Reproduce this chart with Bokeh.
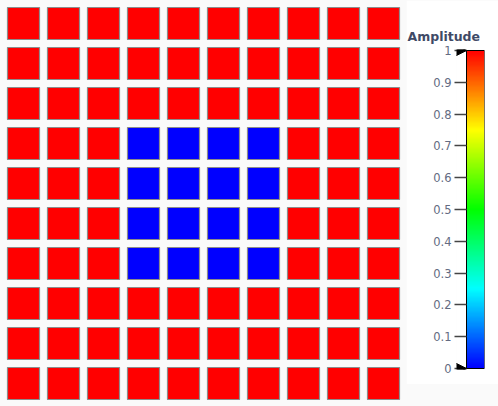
import numpy as np
from bokeh.plotting import figure
from bokeh.layouts import row
from bokeh.models import ColumnDataSource, Range1d, LinearColorMapper, FixedTicker, Title, Arrow, NormalHead
from bokeh.embed import file_html
from bokeh.resources import INLINE

# ---- data ----
amplitude = [
    [1, 1, 1, 1, 1, 1, 1, 1, 1, 1],
    [1, 1, 1, 1, 1, 1, 1, 1, 1, 1],
    [1, 1, 1, 1, 1, 1, 1, 1, 1, 1],
    [1, 1, 1, 0, 0, 0, 0, 1, 1, 1],
    [1, 1, 1, 0, 0, 0, 0, 1, 1, 1],
    [1, 1, 1, 0, 0, 0, 0, 1, 1, 1],
    [1, 1, 1, 0, 0, 0, 0, 1, 1, 1],
    [1, 1, 1, 1, 1, 1, 1, 1, 1, 1],
    [1, 1, 1, 1, 1, 1, 1, 1, 1, 1],
    [1, 1, 1, 1, 1, 1, 1, 1, 1, 1],
]
colorbar_ticks = [0, 0.1, 0.2, 0.3, 0.4, 0.5, 0.6, 0.7, 0.8, 0.9, 1]
colorbar_title = "Amplitude"

# ---- colormap (jet-like) ----
stops = [(0.0, (0, 0, 255)), (0.25, (0, 255, 255)), (0.5, (0, 255, 0)),
         (0.75, (255, 255, 0)), (1.0, (255, 0, 0))]
def cmap(v):
    for (a, ca), (b, cb_) in zip(stops[:-1], stops[1:]):
        if v <= b:
            t = (v - a) / (b - a) if b > a else 0
            return "#%02x%02x%02x" % tuple(int(round(ca[i] + (cb_[i] - ca[i]) * t)) for i in range(3))
    return "#ff0000"
palette = [cmap(i / 255) for i in range(256)]
mapper = LinearColorMapper(palette=palette, low=0, high=1)

# ---- grid ----
xs, ys, vals = [], [], []
for r, rowvals in enumerate(amplitude):
    for c, v in enumerate(rowvals):
        xs.append(c); ys.append(r); vals.append(v)
src = ColumnDataSource(dict(x=xs, y=ys, v=vals))

BG = "#fafafa"
p = figure(width=406, height=406, output_backend="svg", toolbar_location=None,
           x_range=Range1d(-0.575, 9.575), y_range=Range1d(9.575, -0.575),
           x_axis_location=None, y_axis_location=None, min_border=0)
p.frame_align = False
p.background_fill_color = BG
p.border_fill_color = BG
p.outline_line_color = None
p.grid.visible = False
p.rect(x="x", y="y", width=0.8, height=0.8, source=src,
       fill_color={"field": "v", "transform": mapper}, line_color="#8c8c8c", line_width=1.2)

# ---- colorbar ----
pad = 1 / 318
cb = figure(width=92, height=384, output_backend="svg", toolbar_location=None,
            x_range=Range1d(-10 / 18, 1), y_range=Range1d(-pad, 1 + pad),
            x_axis_location=None, y_axis_location="left",
            min_border_left=50, min_border_right=14, min_border_top=49, min_border_bottom=15)
cb.frame_align = False
cb.background_fill_color = "white"
cb.border_fill_color = "white"
cb.outline_line_color = None
cb.grid.visible = False
cb.image(image=[np.linspace(0, 1, 256).reshape(-1, 1)], x=0, y=0, dw=1, dh=1, color_mapper=mapper)
cb.rect(x=0.5, y=0.5, width=1, height=1, fill_color=None, line_color="black", line_width=1)

ax = cb.yaxis[0]
ax.ticker = FixedTicker(ticks=colorbar_ticks)
ax.major_label_overrides = {t: f"{t:g}" for t in colorbar_ticks}
ax.axis_line_color = None
ax.major_tick_in = 10
ax.major_tick_out = 2
ax.major_tick_line_color = "#444444"
ax.major_tick_line_width = 1.5
ax.minor_tick_line_color = None
ax.major_label_standoff = 3
ax.major_label_text_font = "DejaVu Sans"
ax.major_label_text_font_size = "11.5px"
ax.major_label_text_color = "#636b82"

t = Title(text=colorbar_title, align="left", offset=-49, standoff=12,
          text_font="DejaVu Sans", text_font_size="12.5px", text_font_style="bold",
          text_color="#3f4a66")
cb.add_layout(t, "above")

vmin = min(min(r) for r in amplitude)
vmax = max(max(r) for r in amplitude)
for v in (vmin, vmax):
    cb.add_layout(Arrow(end=NormalHead(size=11, fill_color="black", line_color="black"),
                        x_start=-0.5, y_start=v, x_end=0, y_end=v,
                        line_color="black", line_width=2))

layout = row(p, cb, spacing=0)
html = file_html(layout, INLINE)
html = html.replace("</head>", "<style>html,body{background:%s;}</style></head>" % BG, 1)
open("out.html", "w").write(html)
